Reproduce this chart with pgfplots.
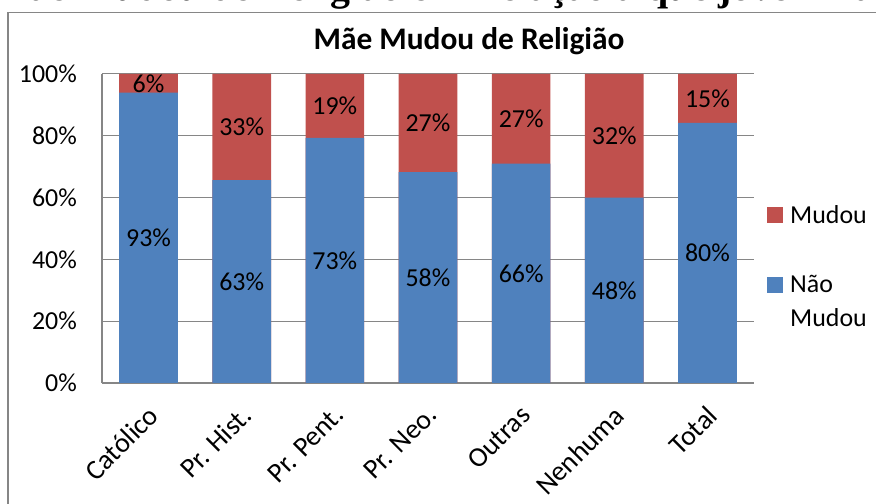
\documentclass[border=0pt]{standalone}
\usepackage{pgfplots}
\pgfplotsset{compat=1.18}
\usepackage{pgfplotstable}
\usepackage{fontspec}
\setmainfont{Carlito}
\newfontfamily\serifb{Liberation Serif}
\definecolor{xlblue}{HTML}{4F81BD}
\definecolor{xlred}{HTML}{C0504D}
\definecolor{axgray}{HTML}{868686}
% bar heights are the shares normalised to 100%; labels are the printed percentages
\pgfplotstableread{
x blue red bmid rmid blab rlab
0 93.94 100 46.97 96.97 93 6
1 65.63 100 32.81 82.81 63 33
2 79.35 100 39.67 89.67 73 19
3 68.24 100 34.12 84.12 58 27
4 70.97 100 35.48 85.48 66 27
5 60.00 100 30.00 80.00 48 32
6 84.21 100 42.11 92.11 80 15
}\datatable
\begin{document}
\begin{tikzpicture}
\useasboundingbox (0,0) rectangle (876bp,504bp);
\begin{scope}
\clip (0,0) rectangle (876bp,504bp);
\node[font=\fontsize{40}{44}\serifb\bfseries, anchor=base east, inner sep=0pt] at (330bp,503.5bp) {Gráfico 5 – Mãe Mudou de Reli};
\node[font=\fontsize{40}{44}\serifb\bfseries, anchor=base west, inner sep=0pt] at (330bp,503.5bp) {gião em Relação à que jovem nasceu};
\end{scope}
\draw[axgray, line width=1.3bp] (8bp,-5bp) -- (8bp,491.5bp) -- (880bp,491.5bp);
\node[font=\fontsize{31.5}{36}\selectfont\bfseries, anchor=base, inner sep=0pt] at (469bp,454bp) {Mãe Mudou de Religião};
\begin{axis}[
  at={(102bp,121bp)}, anchor=south west,
  scale only axis, width=652bp, height=309bp,
  xmin=-0.5, xmax=6.5, ymin=0, ymax=100,
  axis x line*=bottom, axis y line*=left,
  axis line style={axgray, line width=1.5bp},
  major tick length=0pt,
  ytick={0,20,...,100},
  yticklabel={\pgfmathprintnumber{\tick}\%},
  ymajorgrids, grid style={axgray, line width=1bp},
  xtick={0,...,6},
  xticklabels={Católico, Pr. Hist., Pr. Pent., Pr. Neo., Outras, Nenhuma, Total},
  xticklabel style={xshift=-2bp, yshift=-18bp, rotate=45, anchor=north east, inner sep=2bp,
    font=\fontsize{28}{32}\selectfont},
  yticklabel style={inner sep=0pt, xshift=-25bp, font=\fontsize{26}{30}\selectfont},
  /pgf/number format/assume math mode=true,
  legend style={at={(1,1)}, anchor=north west, xshift=13bp, yshift=-131bp, draw=none, fill=none,
    inner sep=0pt, font=\fontsize{26}{34}\selectfont, row sep=50bp, column sep=7bp,
    nodes={inner sep=0pt, align=left, anchor=north west}},
  legend image code/.code={\fill[#1] (0bp,-18bp) rectangle (16bp,-2bp);},
]
\addplot[ybar, bar width=0.63, bar shift=0pt, fill=xlred, draw=none] table[x=x, y=red] {\datatable};
\addlegendentry{Mudou}
\addplot[ybar, bar width=0.63, bar shift=0pt, fill=xlblue, draw=none] table[x=x, y=blue] {\datatable};
\addlegendentry{Não\\Mudou}
\addplot[only marks, mark=*, mark size=0pt, mark options={draw=none, fill=none}, forget plot,
  point meta=explicit symbolic, nodes near coords={\pgfplotspointmeta\%},
  nodes near coords style={anchor=center, font=\fontsize{26}{30}\selectfont, text=black}]
  table[x=x, y=bmid, meta=blab] {\datatable};
\addplot[only marks, mark=*, mark size=0pt, mark options={draw=none, fill=none}, forget plot,
  point meta=explicit symbolic, nodes near coords={\pgfplotspointmeta\%},
  nodes near coords style={anchor=center, font=\fontsize{26}{30}\selectfont, text=black}]
  table[x=x, y=rmid, meta=rlab] {\datatable};
\end{axis}
\end{tikzpicture}
\end{document}
